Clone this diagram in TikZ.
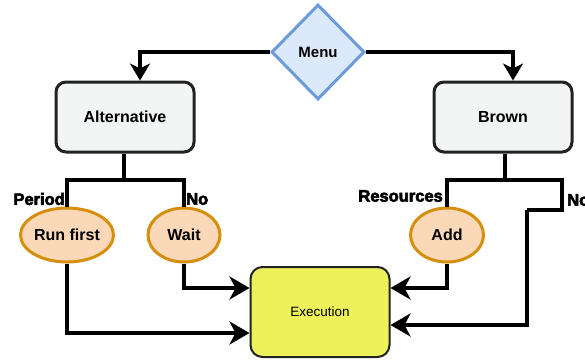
\documentclass[tikz,border=0pt]{standalone}
\usepackage{fontspec}
\setmainfont{Liberation Sans}
\newfontfamily\heavyfont{Liberation Sans Bold}[FakeBold=3.5]
\usetikzlibrary{shapes.geometric,arrows.meta}
\definecolor{boxfill}{HTML}{F3F4F4}
\definecolor{boxline}{HTML}{222222}
\definecolor{dfill}{HTML}{DCE9FA}
\definecolor{dline}{HTML}{6C9BDB}
\definecolor{efill}{HTML}{FBD9B8}
\definecolor{eline}{HTML}{D68F0C}
\definecolor{xfill}{HTML}{EDF25A}
\tikzset{
  menubox/.style={diamond, draw=dline, fill=dfill, line width=3pt, minimum width=93pt, minimum height=95pt, inner sep=0pt, font=\fontsize{15}{17}\selectfont\bfseries},
  choicebox/.style={rectangle, rounded corners=10pt, draw=boxline, fill=boxfill, line width=3pt, minimum width=138pt, minimum height=70pt, font=\fontsize{16}{18}\selectfont\bfseries},
  actbox/.style={ellipse, draw=eline, fill=efill, line width=3pt, inner sep=0pt, font=\fontsize{16}{18}\selectfont\bfseries},
  exebox/.style={rectangle, rounded corners=12pt, draw=boxline, fill=xfill, line width=2pt, minimum width=139pt, minimum height=90pt, font=\fontsize{13.5}{15}\selectfont},
  conn/.style={line width=4pt, draw=black},
  arr/.style={conn, -{Stealth[length=20pt, width=23pt, inset=6pt]}},
  arrtop/.style={conn, -{Stealth[length=17pt, width=20pt, inset=5pt]}},
  lbl/.style={font=\heavyfont\fontsize{16.5}{18}\selectfont, inner sep=0pt}
}
\begin{document}
\begin{tikzpicture}[x=1pt, y=-1pt]
\useasboundingbox (0,0) rectangle (585,360);
\node[menubox] (menu) at (318,52) {Menu};
\node[choicebox] (alt) at (125,117) {Alternative};
\node[choicebox] (brown) at (503,117) {Brown};
\node[actbox, minimum width=82pt, minimum height=54pt] (run) at (67,235) {Run first};
\node[actbox, minimum width=72pt, minimum height=54pt] (wait) at (184,235) {Wait};
\node[actbox, minimum width=73pt, minimum height=54pt] (add) at (447,235) {Add};
\node[exebox] (exe) at (320,312) {Execution};

\draw[arrtop] (menu.west) -| ([xshift=15pt]alt.north);
\draw[arrtop] (menu.east) -| ([xshift=10pt]brown.north);

\coordinate (ja) at (124,180);
\coordinate (jb) at (505,180);
\draw[conn] (alt.south -| ja) -- (ja);
\draw[conn] (run.north) |- (ja) -| (wait.north);
\draw[conn] (brown.south -| jb) -- (jb);
\coordinate (r1) at (562,210);
\coordinate (r2) at (527,210);
\draw[conn] (add.north) |- (jb) -| (r1) -- (r2);
\draw[arr] (r2) |- ([yshift=-13pt]exe.east);

\draw[arr] (run.south) |- ([yshift=-21pt]exe.west);
\draw[arr] (wait.south) |- ([yshift=24pt]exe.west);
\draw[arr] (add.south) |- ([yshift=24pt]exe.east);

\node[lbl, anchor=east] (lp) at (65,199) {Period};
\node[lbl, anchor=west] (ln) at (186,199) {No};
\node[lbl, anchor=east] (lr) at (443,196) {Resources};
\node[lbl, anchor=west] (ln2) at (567,200) {No};
\end{tikzpicture}
\end{document}
